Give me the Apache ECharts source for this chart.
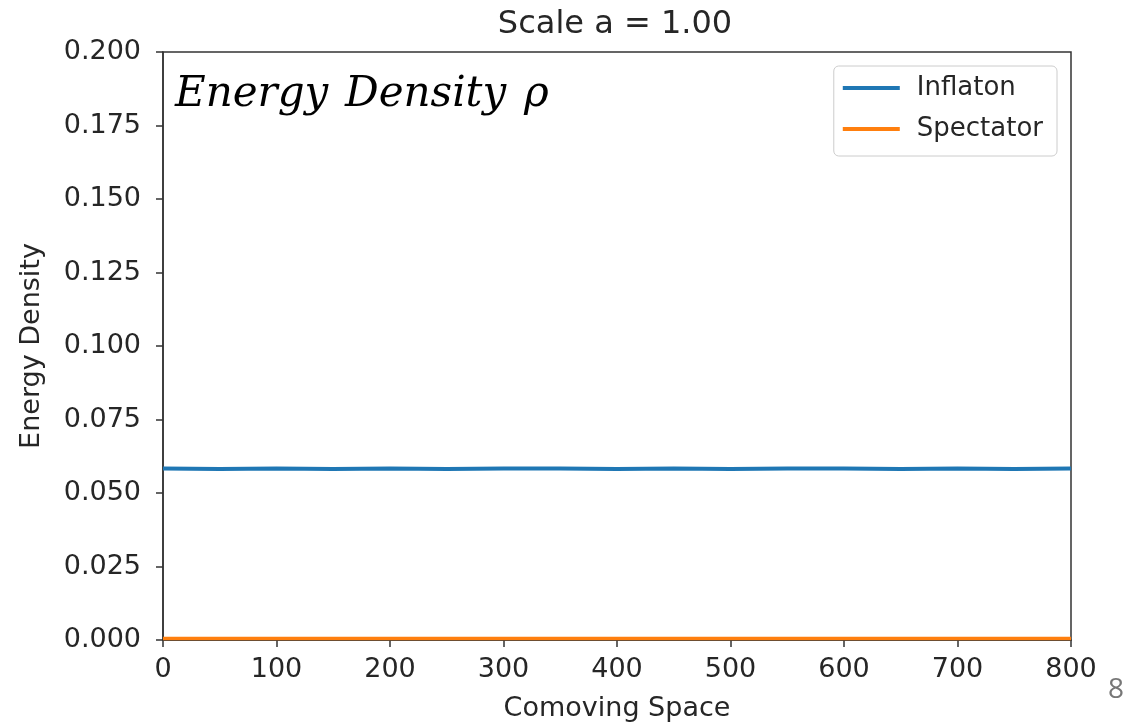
<!DOCTYPE html>
<html>
<head>
<meta charset="UTF-8">
<title>Scale a = 1.00</title>
<style>
  html, body { margin: 0; height: 100%; background: #fff; }
  #main { width: 1128px; height: 722px; }
</style>
</head>
<body>
<div id="main"></div>
<script src="https://cdn.jsdelivr.net/npm/echarts@6/dist/echarts.min.js"></script>
<script>
// comoving positions and values
var xPos = [0, 50, 100, 150, 200, 250, 300, 350, 400, 450, 500, 550, 600, 650, 700, 750, 800];
var inflaton = [0.0583, 0.0582, 0.0583, 0.0582, 0.0583, 0.0582, 0.0583, 0.0583, 0.0582, 0.0583, 0.0582, 0.0583, 0.0583, 0.0582, 0.0583, 0.0582, 0.0583];
var spectator = [0.0005, 0.0005, 0.0005, 0.0005, 0.0005, 0.0005, 0.0005, 0.0005, 0.0005, 0.0005, 0.0005, 0.0005, 0.0005, 0.0005, 0.0005, 0.0005, 0.0005];
var yTicks = ['0.000', '0.025', '0.050', '0.075', '0.100', '0.125', '0.150', '0.175', '0.200'];

function pairs(vals) {
  var res = [];
  for (var i = 0; i < xPos.length; i++) res.push([xPos[i], vals[i]]);
  return res;
}

var font = 'DejaVu Sans';
var ink = '#262626';
var chart = echarts.init(document.getElementById('main'));
chart.setOption({
  animation: false,
  textStyle: { fontFamily: font },
  title: {
    text: 'Scale a = 1.00',
    left: 610, top: 4, textAlign: 'center',
    textStyle: { fontFamily: font, fontSize: 32, fontWeight: 'normal', color: ink }
  },
  grid: {
    left: 163, right: 57, top: 52, bottom: 82,
    outerBoundsMode: 'none', containLabel: false,
    show: true, borderColor: '#333', borderWidth: 1.5
  },
  legend: {
    right: 71, top: 66, orient: 'vertical',
    backgroundColor: '#fff', borderColor: '#ccc', borderWidth: 1, borderRadius: 5,
    padding: [9, 14, 14, 9], itemGap: 15, itemWidth: 57, itemHeight: 4,
    icon: 'rect',
    textStyle: { fontFamily: font, fontSize: 26, color: ink, padding: [0, 0, 0, 12] },
    data: ['Inflaton', 'Spectator']
  },
  xAxis: {
    type: 'value', min: 0, max: 800, interval: 100,
    name: 'Comoving Space', nameLocation: 'middle', nameGap: 55,
    nameTextStyle: { fontFamily: font, fontSize: 27, color: ink },
    axisLine: { show: true, lineStyle: { color: '#333', width: 1.5 } },
    axisTick: { show: true, inside: false, length: 7, lineStyle: { color: '#333', width: 1.5 } },
    axisLabel: { fontFamily: font, fontSize: 27, color: ink, margin: 16 },
    splitLine: { show: false }
  },
  yAxis: {
    type: 'value', min: 0, max: 0.2, interval: 0.025,
    name: 'Energy Density', nameLocation: 'middle', nameGap: 118,
    nameTextStyle: { fontFamily: font, fontSize: 27, color: ink },
    axisLine: { show: true, lineStyle: { color: '#333', width: 1.5 } },
    axisTick: { show: true, inside: false, length: 7, lineStyle: { color: '#333', width: 1.5 } },
    axisLabel: {
      fontFamily: font, fontSize: 27, color: ink, margin: 22,
      formatter: function (v) { return yTicks[Math.round(v / 0.025)]; }
    },
    splitLine: { show: false }
  },
  graphic: [
    {
      type: 'text', left: 175, top: 74,
      style: { text: 'Energy', font: 'italic 42px "DejaVu Serif"', fill: '#000' }
    },
    {
      type: 'text', left: 345, top: 74,
      style: { text: 'Density', font: 'italic 42px "DejaVu Serif"', fill: '#000' }
    },
    {
      type: 'text', left: 524, top: 74,
      style: { text: 'ρ', font: 'italic 42px "DejaVu Serif"', fill: '#000' }
    },
    {
      type: 'text', left: 1108, top: 676,
      style: { text: '8', font: '28px "Open Sans"', fill: '#777' }
    }
  ],
  series: [
    {
      name: 'Inflaton', type: 'line', showSymbol: false,
      lineStyle: { color: '#1f77b4', width: 4 }, itemStyle: { color: '#1f77b4' },
      data: pairs(inflaton)
    },
    {
      name: 'Spectator', type: 'line', showSymbol: false,
      lineStyle: { color: '#ff7f0e', width: 3.5 }, itemStyle: { color: '#ff7f0e' },
      data: pairs(spectator)
    }
  ]
});
</script>
</body>
</html>
